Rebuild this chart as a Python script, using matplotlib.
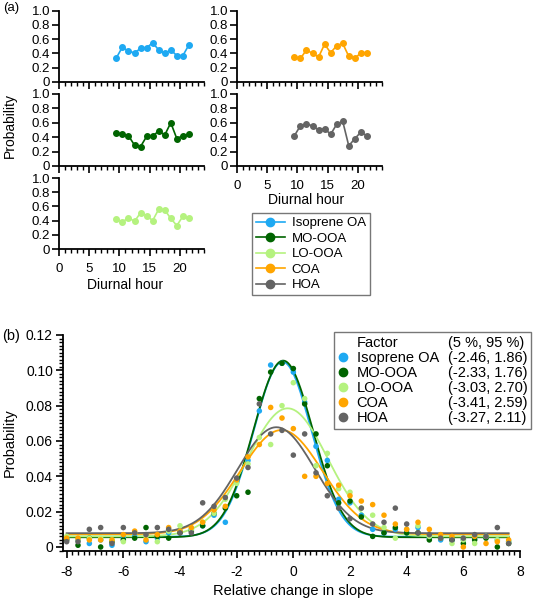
import numpy as np
import matplotlib
matplotlib.use("Agg")
import matplotlib.pyplot as plt
from matplotlib.lines import Line2D
from matplotlib.ticker import MultipleLocator

plt.rcParams['font.family'] = ['Liberation Sans', 'DejaVu Sans']
plt.rcParams['axes.unicode_minus'] = False

# ---- data: panel (a) diurnal probability ----
hours = [9.5, 10.5, 11.5, 12.5, 13.5, 14.5, 15.5, 16.5, 17.5, 18.5, 19.5, 20.5, 21.5]
diurnal_iso = [0.34, 0.49, 0.43, 0.41, 0.47, 0.48, 0.55, 0.45, 0.40, 0.45, 0.37, 0.37, 0.52]
diurnal_mo = [0.46, 0.44, 0.42, 0.29, 0.27, 0.41, 0.41, 0.49, 0.43, 0.60, 0.38, 0.42, 0.44]
diurnal_lo = [0.42, 0.38, 0.44, 0.39, 0.51, 0.47, 0.40, 0.56, 0.55, 0.43, 0.33, 0.46, 0.43]
diurnal_coa = [0.35, 0.33, 0.45, 0.40, 0.35, 0.53, 0.41, 0.51, 0.54, 0.36, 0.33, 0.41, 0.41]
diurnal_hoa = [0.42, 0.56, 0.58, 0.56, 0.50, 0.52, 0.44, 0.58, 0.62, 0.28, 0.38, 0.47, 0.42]

# ---- data: panel (b) slope distribution ----
slope_bins = np.round(np.arange(-8.0, 7.61, 0.4), 1)
prob_iso = [0.005, 0.004, 0.002, 0.004, 0.001, 0.005, 0.006, 0.003, 0.005, 0.008,
            0.009, 0.010, 0.012, 0.018, 0.014, 0.037, 0.049, 0.077, 0.103, 0.104,
            0.099, 0.082, 0.057, 0.049, 0.027, 0.025, 0.018, 0.010, 0.008, 0.010,
            0.008, 0.011, 0.005, 0.004, 0.004, 0.004, 0.005, 0.006, 0.004, 0.003]
prob_mo = [0.004, 0.001, 0.005, 0.000, 0.003, 0.004, 0.005, 0.011, 0.006, 0.005,
           0.008, 0.009, 0.012, 0.019, 0.022, 0.029, 0.031, 0.084, 0.099, 0.104,
           0.101, 0.081, 0.064, 0.046, 0.025, 0.026, 0.017, 0.006, 0.008, 0.011,
           0.008, 0.008, 0.004, 0.005, 0.004, 0.002, 0.004, 0.005, 0.000, 0.002]
prob_lo = [0.006, 0.004, 0.005, 0.005, 0.004, 0.003, 0.008, 0.006, 0.003, 0.009,
           0.012, 0.010, 0.014, 0.019, 0.027, 0.036, 0.047, 0.062, 0.058, 0.080,
           0.093, 0.084, 0.046, 0.053, 0.033, 0.031, 0.022, 0.018, 0.011, 0.005,
           0.010, 0.012, 0.006, 0.005, 0.002, 0.004, 0.002, 0.006, 0.004, 0.003]
prob_coa = [0.005, 0.005, 0.004, 0.004, 0.004, 0.007, 0.009, 0.004, 0.007, 0.011,
            0.009, 0.011, 0.014, 0.021, 0.023, 0.038, 0.051, 0.058, 0.079, 0.073,
            0.067, 0.040, 0.040, 0.036, 0.035, 0.029, 0.026, 0.024, 0.018, 0.013,
            0.010, 0.014, 0.010, 0.007, 0.006, 0.000, 0.006, 0.002, 0.003, 0.004]
prob_hoa = [0.003, 0.003, 0.010, 0.011, 0.002, 0.011, 0.008, 0.007, 0.011, 0.010,
            0.008, 0.008, 0.025, 0.023, 0.028, 0.039, 0.045, 0.081, 0.064, 0.066,
            0.052, 0.064, 0.042, 0.029, 0.022, 0.016, 0.022, 0.013, 0.014, 0.022,
            0.013, 0.008, 0.007, 0.005, 0.004, 0.005, 0.007, 0.006, 0.011, 0.002]

# gaussian fit parameters: baseline, amplitude, centre, sigma
fit_iso = (0.0058, 0.099, -0.38, 1.02)
fit_mo = (0.0055, 0.100, -0.36, 1.05)
fit_lo = (0.0060, 0.0725, -0.20, 1.42)
fit_coa = (0.0072, 0.059, -0.42, 1.45)
fit_hoa = (0.0078, 0.060, -0.60, 1.36)

names = ['Isoprene OA', 'MO-OOA', 'LO-OOA', 'COA', 'HOA']
pct_text = ['(-2.46, 1.86)', '(-2.33, 1.76)', '(-3.03, 2.70)', '(-3.41, 2.59)', '(-3.27, 2.11)']
colors = ['#1EA9F2', '#006400', '#B5F27F', '#FFA500', '#646464']

W, H = 533, 600
fig = plt.figure(figsize=(W / 100, H / 100), dpi=100)


def px_axes(x0, y0, x1, y1):
    # pixel box (left, top, right, bottom) -> figure axes
    return fig.add_axes([x0 / W, 1 - y1 / H, (x1 - x0) / W, (y1 - y0) / H])


# ---------- panel (a) ----------
diurnal = [diurnal_iso, diurnal_mo, diurnal_lo, diurnal_coa, diurnal_hoa]
boxes = [(59, 10.7, 204, 82), (59, 94, 204, 166), (59, 178, 204, 249),
         (237, 10.7, 382, 82), (237, 94, 382, 166)]
show_xlab = [False, False, True, False, True]

for vals, col, box, lab in zip(diurnal, colors, boxes, show_xlab):
    ax = px_axes(*box)
    ax.plot(hours, vals, '-o', color=col, ms=4, lw=1.2)
    ax.set_xlim(0, 24)
    ax.set_ylim(0, 1.0)
    ax.set_yticks([0, 0.2, 0.4, 0.6, 0.8, 1.0])
    ax.set_yticklabels(['0', '0.2', '0.4', '0.6', '0.8', '1.0'])
    ax.set_xticks([0, 5, 10, 15, 20])
    ax.xaxis.set_minor_locator(MultipleLocator(1))
    ax.spines['top'].set_visible(False)
    ax.spines['right'].set_visible(False)
    ax.spines['left'].set_linewidth(1.3)
    ax.spines['bottom'].set_linewidth(1.3)
    ax.tick_params(which='major', length=5, width=1.2, labelsize=9.5, pad=1.5)
    ax.tick_params(which='minor', length=3, width=1.0)
    if not lab:
        ax.set_xticklabels([])
    else:
        ax.tick_params(axis='x', pad=5)

fig.text(125 / W, 1 - 285 / H, 'Diurnal hour', ha='center', va='center', fontsize=10)
fig.text(306 / W, 1 - 200 / H, 'Diurnal hour', ha='center', va='center', fontsize=10)
fig.text(10 / W, 1 - 125 / H, 'Probability', rotation=90, ha='center', va='center', fontsize=10)
fig.text(3 / W, 1 - 8 / H, '(a)', ha='left', va='center', fontsize=9.5)

handles_a = [Line2D([], [], color=c, marker='o', ms=6, lw=1.2) for c in colors]
leg_a = fig.legend(handles_a, names, loc='upper left', bbox_to_anchor=(252 / W, 1 - 213 / H),
                   fontsize=9.5, frameon=True, fancybox=False, handlelength=2.2,
                   handletextpad=0.5, labelspacing=0.25, borderpad=0.3, borderaxespad=0)
leg_a.get_frame().set_edgecolor('#555555')
leg_a.get_frame().set_linewidth(1.0)

# ---------- panel (b) ----------
axb = px_axes(62.7, 335, 520, 550.7)
probs = [prob_iso, prob_mo, prob_lo, prob_coa, prob_hoa]
fits = [fit_iso, fit_mo, fit_lo, fit_coa, fit_hoa]
xs = np.linspace(-8.0, 7.6, 400)
for p, f, c in zip(probs, fits, colors):
    base, amp, mu, sig = f
    axb.plot(xs, base + amp * np.exp(-(xs - mu) ** 2 / (2 * sig ** 2)), color=c, lw=1.3)
for p, c in zip(probs, colors):
    axb.scatter(slope_bins, p, s=16, color=c, edgecolors='none', zorder=3)

axb.set_xlim(-8.14, 8.0)
axb.set_ylim(-0.0021, 0.12)
axb.set_xticks(np.arange(-8, 9, 2))
axb.set_yticks([0, 0.02, 0.04, 0.06, 0.08, 0.10, 0.12])
axb.set_yticklabels(['0', '0.02', '0.04', '0.06', '0.08', '0.10', '0.12'])
axb.xaxis.set_minor_locator(MultipleLocator(0.2))
axb.yaxis.set_minor_locator(MultipleLocator(0.002))
axb.spines['top'].set_visible(False)
axb.spines['right'].set_visible(False)
axb.spines['left'].set_linewidth(1.3)
axb.spines['bottom'].set_linewidth(1.3)
axb.tick_params(which='major', length=5, width=1.2, labelsize=10, pad=2)
axb.tick_params(which='minor', length=3, width=1.0)
axb.tick_params(axis='x', pad=5)

fig.text(293 / W, 1 - 591 / H, 'Relative change in slope', ha='center', va='center', fontsize=10.5)
fig.text(10 / W, 1 - 443 / H, 'Probability', rotation=90, ha='center', va='center', fontsize=10.5)
fig.text(2 / W, 1 - 336 / H, '(b)', ha='left', va='center', fontsize=10.5)

blank = Line2D([], [], linestyle='none')
handles_b = [blank] + [Line2D([], [], linestyle='none', marker='o', ms=6, color=c) for c in colors]
handles_b += [blank] * 6
labels_b = ['Factor'] + names + ['(5 %, 95 %)'] + pct_text
leg_b = fig.legend(handles_b, labels_b, ncol=2, loc='upper right',
                   bbox_to_anchor=(531 / W, 1 - 332 / H), fontsize=10.5, frameon=True,
                   fancybox=False, handlelength=0.8, handletextpad=0.5, columnspacing=-0.7,
                   labelspacing=0.08, borderpad=0.25, borderaxespad=0)
leg_b.get_frame().set_edgecolor('#555555')
leg_b.get_frame().set_linewidth(1.0)

fig.savefig('out.png', dpi=100)
